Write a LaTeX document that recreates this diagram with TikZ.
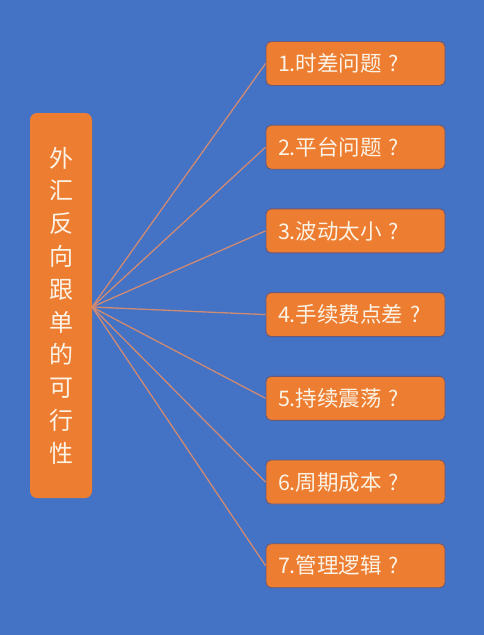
\documentclass[tikz,border=0pt]{standalone}
\usepackage{fontspec}
\newfontfamily\cjk{Noto Sans CJK SC}
\definecolor{bg}{HTML}{4472C4}
\definecolor{boxfill}{HTML}{ED7D31}
\definecolor{boxline}{HTML}{6A5A78}
\definecolor{linkc}{HTML}{CF8A74}
\definecolor{txt}{HTML}{FBF3E6}
\newcommand{\qm}{\hspace{7pt}?}
\tikzset{
  item/.style={draw=boxline, line width=0.9pt, fill=boxfill, rounded corners=5pt,
    minimum width=179pt, minimum height=44pt, text width=155pt, align=left,
    inner xsep=12pt, inner ysep=0pt, text=txt, font=\cjk\fontsize{21.5}{24}\selectfont},
  mainbox/.style={fill=boxfill, rounded corners=7pt, minimum width=62pt,
    minimum height=385pt, align=center, text=txt, inner sep=0pt,
    font=\cjk\fontsize{24}{32.8}\selectfont},
  link/.style={draw=linkc, line width=1.3pt}
}
\begin{document}
\begin{tikzpicture}[x=1pt,y=-1pt]
\fill[bg] (0,0) rectangle (484,635);
\useasboundingbox (0,0) rectangle (484,635);
\node[mainbox] (m) at (61,305.5) {外\\汇\\反\\向\\跟\\单\\的\\可\\行\\性};
\coordinate (s) at (92,307);
\node[item] (a1) at (355.5,63.5) {1.时差问题\qm};
\node[item] (a2) at (355.5,147.2) {2.平台问题\qm};
\node[item] (a3) at (355.5,230.9) {3.波动太小\qm};
\node[item] (a4) at (355.5,314.6) {4.手续费点差\qm};
\node[item] (a5) at (355.5,398.3) {5.持续震荡\qm};
\node[item] (a6) at (355.5,482) {6.周期成本\qm};
\node[item] (a7) at (355.5,565.7) {7.管理逻辑\qm};
\foreach \i in {1,...,7} {\draw[link] (s) -- (a\i.west);}
\end{tikzpicture}
\end{document}
